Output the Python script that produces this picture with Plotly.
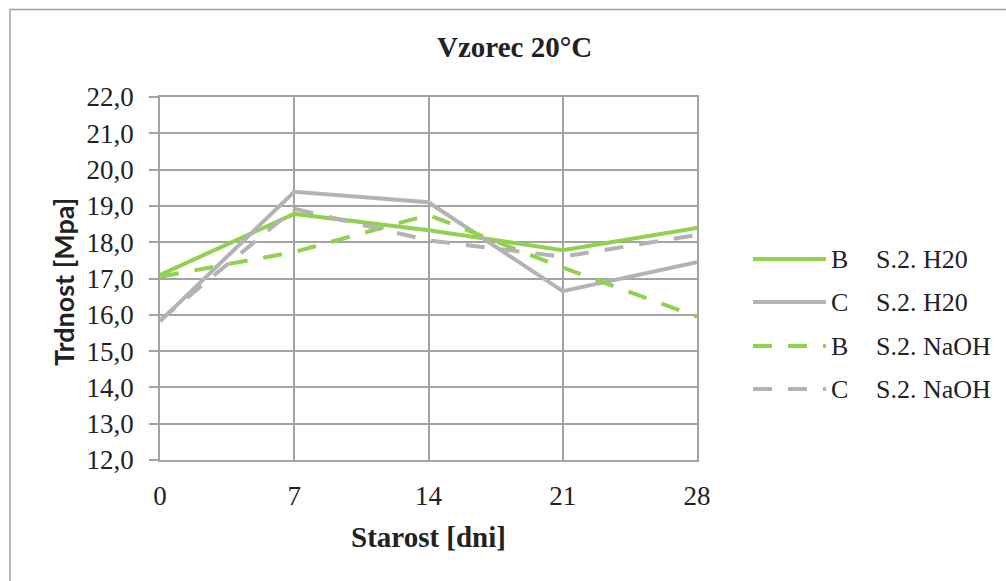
import plotly.graph_objects as go

# Age of specimens (days) and measured strength (MPa)
days = [0, 7, 14, 21, 28]
b_h2o = [17.10, 18.78, 18.33, 17.78, 18.39]
c_h2o = [15.82, 19.39, 19.10, 16.65, 17.45]
b_naoh = [17.05, 17.73, 18.75, 17.30, 15.95]
c_naoh = [15.85, 18.92, 18.05, 17.60, 18.20]

series_names = ["B", "C", "B", "C"]
series_labels = ["S.2. H20", "S.2. H20", "S.2. NaOH", "S.2. NaOH"]
y_ticks = [12, 13, 14, 15, 16, 17, 18, 19, 20, 21, 22]

GREEN = "#92D050"
GREY = "#B3B3B3"
GRID = "#A3A3A6"
TEXT = "#222222"
DASH = "19px,16px"

styles = [
    dict(color=GREEN, width=4, dash="solid"),
    dict(color=GREY, width=4, dash="solid"),
    dict(color=GREEN, width=4, dash=DASH),
    dict(color=GREY, width=4, dash=DASH),
]
data = [b_h2o, c_h2o, b_naoh, c_naoh]

fig = go.Figure()
for vals, st, nm, lb in zip(data, styles, series_names, series_labels):
    fig.add_trace(go.Scatter(x=days, y=vals, mode="lines", line=st,
                             name=f"{nm} {lb}", showlegend=False))

serif = "Liberation Serif"

fig.update_layout(
    width=1006, height=581,
    margin=dict(l=160, r=309, t=97, b=121),
    paper_bgcolor="white", plot_bgcolor="white",
    separators=",.",
    font=dict(family=serif, size=26, color=TEXT),
    xaxis=dict(range=[0, 28], tickvals=days, showgrid=True, gridcolor=GRID,
               gridwidth=1.5, zeroline=False, showline=True, linecolor=GRID,
               linewidth=1.5, mirror=True, ticks="", ticklabelstandoff=11,
               tickfont=dict(family=serif, size=27, color=TEXT)),
    yaxis=dict(range=[12, 22], tickvals=y_ticks, tickformat=".1f",
               showgrid=True, gridcolor=GRID, gridwidth=1.5, zeroline=False,
               showline=True, linecolor=GRID, linewidth=1.5, mirror=True,
               ticks="outside", ticklen=9, tickcolor=GRID, tickwidth=1.5,
               ticklabelstandoff=10,
               tickfont=dict(family=serif, size=27, color=TEXT)),
)

def px_x(x):
    return (x - 160) / 537

def px_y(y):
    return (460 - y) / 363

# Outer chart frame
fig.add_shape(type="rect", xref="paper", yref="paper",
              x0=px_x(10), x1=px_x(1100), y0=px_y(700), y1=px_y(9.5),
              line=dict(color="#A0A0A0", width=1.5), fillcolor="rgba(0,0,0,0)",
              layer="below")

def label(text, x, y, size, family=serif, xanchor="center", angle=0):
    fig.add_annotation(text=text, xref="paper", yref="paper",
                       x=px_x(x), y=px_y(y), xanchor=xanchor, yanchor="middle",
                       showarrow=False, textangle=angle,
                       font=dict(family=family, size=size, color=TEXT))

# Titles
label("<b>Vzorec 20°C</b>", 514, 47, 29)
label("<b>Starost [dni]</b>", 428, 537, 29)
label("<b>Trdnost [Mpa]</b>", 63, 282, 27, family="Lato", angle=-90)

# Legend
legend_y = [259, 302, 346, 389]
for st, nm, lb, ly in zip(styles, series_names, series_labels, legend_y):
    fig.add_shape(type="line", xref="paper", yref="paper",
                  x0=px_x(753), x1=px_x(826), y0=px_y(ly), y1=px_y(ly),
                  line=st)
    label(nm, 829, ly, 26, xanchor="left")
    label(lb, 874, ly, 26, xanchor="left")

fig.write_html("out.html")
